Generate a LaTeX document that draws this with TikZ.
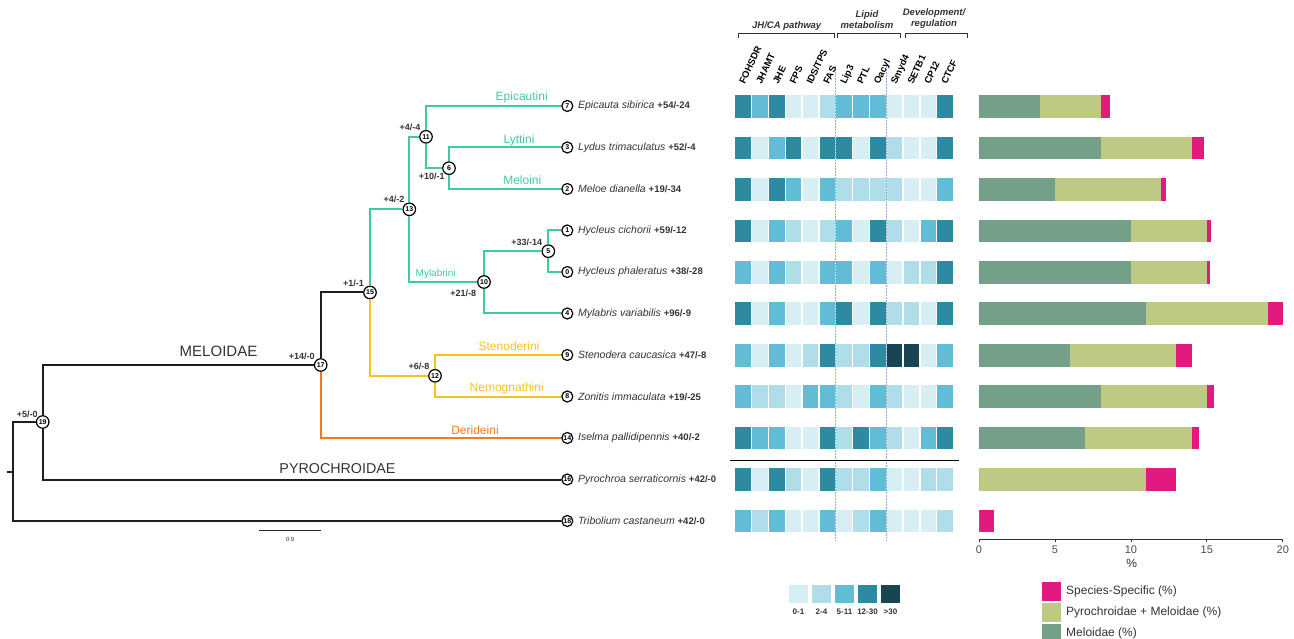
\documentclass[tikz,border=0pt]{standalone}
\usepackage{fontspec}
\setmainfont{Liberation Sans}
\newcommand\fs[1]{\fontsize{#1}{#1}\selectfont}
\definecolor{tealc}{HTML}{3FC9A5}
\definecolor{goldc}{HTML}{F8C21C}
\definecolor{orngc}{HTML}{F47A20}
\definecolor{txt}{HTML}{333333}
\definecolor{h0}{HTML}{D7EEF4}
\definecolor{h1}{HTML}{B0DDEA}
\definecolor{h2}{HTML}{62BCD5}
\definecolor{h3}{HTML}{2E8AA0}
\definecolor{h4}{HTML}{174552}
\definecolor{bM}{HTML}{74A089}
\definecolor{bPM}{HTML}{BEC983}
\definecolor{bSS}{HTML}{E2197F}
\definecolor{dashc}{HTML}{8FAEE0}
\begin{document}
\begin{tikzpicture}[x=1pt,y=-1pt,
  br/.style={line width=2pt,draw=black!88},
  tbr/.style={line width=2pt,draw=tealc},
  gbr/.style={line width=2pt,draw=goldc},
  obr/.style={line width=2pt,draw=orngc},
  tipc/.style={circle,draw=black,line width=1.2pt,fill=white,inner sep=0pt,minimum size=11pt,font=\bfseries\fs{7}},
  intc/.style={circle,draw=black,line width=1.2pt,fill=white,inner sep=0pt,minimum size=12.5pt,font=\bfseries\fs{7}},
  gl/.style={font=\bfseries\fs{9},text=txt,inner sep=0pt},
  clade/.style={font=\fs{12},inner sep=0pt},
  fam/.style={font=\fs{15},text=txt,inner sep=0pt},
  sp/.style={anchor=west,inner sep=0pt,text=txt,font=\fs{10.5}},
  hdr/.style={font=\bfseries\fs{9.5},text=black,inner sep=0pt,rotate=65,anchor=base west},
  grp/.style={font=\bfseries\itshape\fs{9.5},text=txt,inner sep=0pt,align=center},
  brk/.style={line width=0.8pt,draw=black!80},
  leg/.style={font=\fs{12},text=txt,inner sep=0pt,anchor=west},
  tick/.style={font=\fs{11},text=black!70,inner sep=0pt}
]
\useasboundingbox (0,0) rectangle (1294,639);

% ---------- tree nodes ----------
\coordinate (root) at (13.3,471.5);
\coordinate (rootstub) at (7,471.5);
\node[intc] (n19) at (42.7,422) {19};
\node[intc] (n17) at (320.7,365) {17};
\node[intc] (n15) at (370,292.5) {15};
\node[intc] (n13) at (409.3,209.3) {13};
\node[intc] (n11) at (426,136.8) {11};
\node[intc] (n6)  at (449,168.2) {6};
\node[intc] (n10) at (484,282) {10};
\node[intc] (n5)  at (548.3,251.2) {5};
\node[intc] (n12) at (435,375.8) {12};

\node[tipc] (t7)  at (567.3,106)   {7};
\node[tipc] (t3)  at (567.3,147.5) {3};
\node[tipc] (t2)  at (567.3,189)   {2};
\node[tipc] (t1)  at (567.3,230.5) {1};
\node[tipc] (t0)  at (567.3,272)   {0};
\node[tipc] (t4)  at (567.3,313.5) {4};
\node[tipc] (t9)  at (567.3,355)   {9};
\node[tipc] (t8)  at (567.3,396.5) {8};
\node[tipc] (t14) at (567.3,438)   {14};
\node[tipc] (t16) at (567.3,479.5) {16};
\node[tipc] (t18) at (567.3,521)   {18};

% ---------- branches ----------
\draw[br] (root) -- (rootstub);
\draw[br] (root) |- (n19);
\draw[br] (root) |- (t18);
\draw[br] (n19) |- (n17);
\draw[br] (n19) |- (t16);
\draw[br] (n17) |- (n15);
\draw[obr] (n17) |- (t14);
\draw[tbr] (n15) |- (n13);
\draw[gbr] (n15) |- (n12);
\draw[tbr] (n13) |- (n11);
\draw[tbr] (n13) |- (n10);
\draw[tbr] (n11) |- (t7);
\draw[tbr] (n11) |- (n6);
\draw[tbr] (n6) |- (t3);
\draw[tbr] (n6) |- (t2);
\draw[tbr] (n10) |- (n5);
\draw[tbr] (n10) |- (t4);
\draw[tbr] (n5) |- (t1);
\draw[tbr] (n5) |- (t0);
\draw[gbr] (n12) |- (t9);
\draw[gbr] (n12) |- (t8);

% ---------- gain/loss labels ----------
\node[gl] (g19) at (27.3,414.7) {+5/-0};
\node[gl] (g17) at (301.7,356) {+14/-0};
\node[gl] (g15) at (353.5,283) {+1/-1};
\node[gl] (g13) at (394,199) {+4/-2};
\node[gl] (g11) at (410,127.3) {+4/-4};
\node[gl] (g6)  at (431.7,176.7) {+10/-1};
\node[gl] (g10) at (463.3,293.3) {+21/-8};
\node[gl] (g5)  at (526.7,242.3) {+33/-14};
\node[gl] (g12) at (419,366.7) {+6/-8};

% ---------- clade labels ----------
\node[clade,text=tealc] (c1) at (521.7,97.3) {Epicautini};
\node[clade,text=tealc] (c2) at (519,140) {Lyttini};
\node[clade,text=tealc] (c3) at (522.3,180.7) {Meloini};
\node[clade,text=tealc,font=\fs{10}] (c4) at (435.7,274) {Mylabrini};
\node[clade,text=goldc] (c5) at (509,346.7) {Stenoderini};
\node[clade,text=goldc] (c6) at (506.7,388.7) {Nemognathini};
\node[clade,text=orngc] (c7) at (475,430) {Derideini};
\node[fam] (f1) at (218.5,351.7) {MELOIDAE};
\node[fam,font=\fs{14.3}] (f2) at (337.5,469) {PYROCHROIDAE};

% scale bar
\coordinate (sb1) at (259,530);
\coordinate (sb2) at (321,530);
\draw[line width=1pt,black!85] (sb1) -- (sb2);
\node[font=\fs{6},text=txt,inner sep=0pt] (sbl) at (290,539) {0.9};

% ---------- species labels ----------
\newcommand\spl[3]{\node[sp] (l#1) at ([xshift=4.5pt]t#1.east) {\textit{#2} {\bfseries\fs{9.5}#3}};}
\spl{7}{Epicauta sibirica}{+54/-24}
\spl{3}{Lydus trimaculatus}{+52/-4}
\spl{2}{Meloe dianella}{+19/-34}
\spl{1}{Hycleus cichorii}{+59/-12}
\spl{0}{Hycleus phaleratus}{+38/-28}
\spl{4}{Mylabris variabilis}{+96/-9}
\spl{9}{Stenodera caucasica}{+47/-8}
\spl{8}{Zonitis immaculata}{+19/-25}
\spl{14}{Iselma pallidipennis}{+40/-2}
\spl{16}{Pyrochroa serraticornis}{+42/-0}
\spl{18}{Tribolium castaneum}{+42/-0}

% ---------- heatmap ----------
\foreach \rw [count=\i] in {
 {3,2,3,0,0,1,2,2,2,0,0,0,3},
 {3,0,2,3,0,3,3,0,3,1,0,0,3},
 {3,0,3,2,0,2,1,1,1,1,0,0,2},
 {3,0,2,1,0,1,2,0,3,1,0,2,3},
 {2,0,2,1,0,2,2,0,2,0,1,1,3},
 {3,0,2,0,0,2,3,0,3,1,1,0,3},
 {2,0,2,0,1,3,1,1,3,4,4,0,2},
 {2,1,1,0,2,2,1,0,2,1,0,0,2},
 {3,2,2,0,0,3,1,3,2,1,0,2,3},
 {3,0,3,1,0,3,1,1,2,0,0,1,1},
 {2,1,2,0,0,2,0,1,2,0,0,0,1}}{
  \foreach \v [count=\j] in \rw {
    \pgfmathsetmacro\cx{743.2+16.83*(\j-1)}
    \pgfmathsetmacro\cy{106.5+41.45*(\i-1)}
    \fill[h\v] (\cx-7.8,\cy-11.3) rectangle (\cx+7.8,\cy+11.3);
  }
}
% dashed separators
\coordinate (d1a) at (835.8,66); \coordinate (d1b) at (835.8,541);
\coordinate (d2a) at (886.3,66); \coordinate (d2b) at (886.3,541);
\draw[dashc,line width=0.8pt,dash pattern=on 2pt off 1pt] (d1a) -- (d1b);
\draw[dashc,line width=0.8pt,dash pattern=on 2pt off 1pt] (d2a) -- (d2b);
% black separator
\coordinate (s1) at (730,460.3); \coordinate (s2) at (959,460.3);
\draw[line width=1.6pt,black] (s1) -- (s2);

% column headers
\foreach \lab [count=\j] in {FOHSDR,JHAMT,JHE,FPS,IDS/TPS,FAS,Lip3,PTL,Oacyl,Smyd4,SETB1,CP12,CTCF}{
  \pgfmathsetmacro\cx{743.2+16.83*(\j-1)+1.5}
  \node[hdr] (hd\j) at (\cx,85) {\lab};
}
% group brackets
\draw[brk] (738,38) -- (738,33.3) -- (834.3,33.3) -- (834.3,38);
\draw[brk] (837.5,38) -- (837.5,33.3) -- (900,33.3) -- (900,38);
\draw[brk] (905,38) -- (905,33.3) -- (967,33.3) -- (967,38);
\node[grp] (gp1) at (786.7,26.5) {JH/CA pathway};
\node[grp] (gp2) at (867,19.5) {Lipid\\[1.5pt]metabolism};
\node[grp] (gp3) at (934,18.8) {Development/\\[1.5pt]regulation};

% ---------- bar chart ----------
\foreach \m/\p/\s [count=\i] in {4/8/8.65,8/14/14.8,5/12/12.3,10/15/15.25,10/15/15.2,11/19/20,6/13/14,8/15/15.5,7/14/14.5,0/11/13,0/0/1}{
  \pgfmathsetmacro\cy{106.5+41.45*(\i-1)}
  \fill[bSS] (979,\cy-11.3) rectangle (979+15.19*\s,\cy+11.3);
  \fill[bPM] (979,\cy-11.3) rectangle (979+15.19*\p,\cy+11.3);
  \fill[bM] (979,\cy-11.3) rectangle (979+15.19*\m,\cy+11.3);
}
\coordinate (ax0) at (979,539); \coordinate (ax1) at (1283,539);
\draw[line width=0.9pt,black!80] (ax0) -- (ax1);
\foreach \t in {0,5,10,15,20}{
  \draw[line width=0.8pt,black!80] (979+15.19*\t,539) -- (979+15.19*\t,542);
  \node[tick] (tk\t) at (979+15.19*\t,549.5) {\t};
}
\node[tick,font=\fs{12},text=txt] (pct) at (1131.7,563) {\%};

% ---------- heat legend ----------
\foreach \lab [count=\k from 0] in {0-1,2-4,5-11,12-30,>30}{
  \fill[h\k] (789.3+23*\k,585) rectangle (807.6+23*\k,603.3);
  \node[font=\bfseries\fs{8},text=txt,inner sep=0pt] (hl\k) at (798.5+23*\k,611.8) {\lab};
}

% ---------- bar legend ----------
\fill[bSS] (1041.7,582.3) rectangle (1060.7,601);
\fill[bPM] (1041.7,603.3) rectangle (1060.7,621.7);
\fill[bM]  (1041.7,624.3) rectangle (1060.7,643);
\node[leg] (lg1) at (1066,591.3) {Species-Specific (\%)};
\node[leg] (lg2) at (1066,612.3) {Pyrochroidae + Meloidae (\%)};
\node[leg] (lg3) at (1066,633) {Meloidae (\%)};
\end{tikzpicture}
\end{document}
